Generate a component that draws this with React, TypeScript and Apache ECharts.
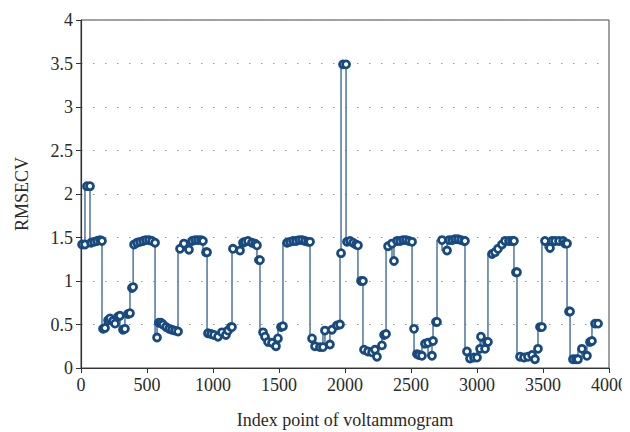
import React, { useEffect, useRef } from "react";
import * as echarts from "echarts";

// Index point of voltammogram (x) and RMSECV (y)
const indexPoints: number[] = [
  8, 30, 45, 68, 76, 98, 121, 144, 159,
  167, 182, 205, 220, 242, 258, 280, 295, 318, 333, 356, 371, 386, 395,
  402, 424, 447, 470, 492, 515, 538, 561,
  576, 590, 606, 621, 644, 667, 689, 712, 735,
  750, 780, 818, 841, 864, 886, 909, 924, 947, 955,
  962, 985, 1008, 1038, 1068, 1098, 1114, 1136, 1144,
  1151, 1205, 1227, 1242, 1265, 1295, 1318, 1333, 1348, 1356,
  1379, 1394, 1417, 1447, 1477, 1492, 1515, 1530,
  1561, 1583, 1606, 1629, 1652, 1674, 1697, 1720, 1735,
  1750, 1773, 1810, 1833, 1848, 1886, 1901, 1939, 1962,
  1970, 1985, 2008, 2015,
  2038, 2061, 2083, 2098,
  2121, 2136,
  2144, 2174, 2205, 2227, 2242, 2280, 2296, 2311,
  2326, 2356, 2371, 2394, 2417, 2440, 2462, 2485, 2508,
  2523, 2545, 2560, 2583, 2606, 2629, 2659, 2667, 2689, 2697,
  2735, 2773, 2788, 2811, 2833, 2856, 2879, 2902, 2909,
  2924, 2947, 2977, 3000, 3023, 3030, 3061, 3076, 3083,
  3114, 3136, 3159, 3189, 3212, 3242, 3265, 3280, 3295, 3303,
  3326, 3356, 3386, 3417, 3439, 3462, 3477, 3492,
  3515, 3553, 3568, 3591, 3621, 3652, 3667, 3682,
  3697, 3705,
  3727, 3750, 3765, 3795, 3833, 3856, 3871, 3894, 3917,
];

const rmsecv: number[] = [
  1.42, 1.42, 2.09, 2.09, 1.44, 1.45, 1.46, 1.47, 1.46,
  0.45, 0.46, 0.55, 0.57, 0.54, 0.51, 0.59, 0.6, 0.44, 0.45, 0.62, 0.63, 0.92, 0.93,
  1.42, 1.44, 1.45, 1.46, 1.47, 1.47, 1.46, 1.44,
  0.35, 0.52, 0.52, 0.5, 0.47, 0.45, 0.44, 0.43, 0.42,
  1.37, 1.43, 1.36, 1.46, 1.47, 1.47, 1.47, 1.46, 1.33, 1.33,
  0.4, 0.39, 0.38, 0.36, 0.41, 0.38, 0.43, 0.47, 0.47,
  1.37, 1.35, 1.44, 1.45, 1.46, 1.44, 1.43, 1.41, 1.24, 1.24,
  0.41, 0.36, 0.3, 0.29, 0.25, 0.34, 0.47, 0.48,
  1.44, 1.45, 1.46, 1.46, 1.47, 1.47, 1.46, 1.45, 1.45,
  0.34, 0.25, 0.24, 0.24, 0.43, 0.27, 0.44, 0.49, 0.5,
  1.32, 3.49, 3.49, 1.45,
  1.46, 1.44, 1.42, 1.41,
  1.0, 1.0,
  0.21, 0.19, 0.18, 0.21, 0.13, 0.26, 0.38, 0.39,
  1.4, 1.43, 1.23, 1.46, 1.46, 1.47, 1.47, 1.46, 1.45,
  0.45, 0.16, 0.15, 0.14, 0.28, 0.29, 0.14, 0.31, 0.53, 0.53,
  1.47, 1.35, 1.47, 1.47, 1.48, 1.48, 1.47, 1.46, 1.46,
  0.19, 0.11, 0.12, 0.12, 0.22, 0.36, 0.22, 0.3, 0.3,
  1.31, 1.33, 1.37, 1.42, 1.46, 1.46, 1.46, 1.46, 1.1, 1.1,
  0.13, 0.12, 0.13, 0.15, 0.1, 0.22, 0.47, 0.47,
  1.46, 1.38, 1.46, 1.46, 1.46, 1.46, 1.43, 1.43,
  0.65, 0.65,
  0.1, 0.1, 0.1, 0.22, 0.14, 0.3, 0.31, 0.51, 0.51,
];

const xTitle = "Index point of voltammogram";
const yTitle = "RMSECV";

export default function App() {
  const ref = useRef<HTMLDivElement>(null);
  useEffect(() => {
    if (!ref.current) return;
    const chart = echarts.init(ref.current, null, { renderer: "svg" });
    const data = indexPoints.map((x, i) => [x, rmsecv[i]]);
    const font = "Liberation Serif";
    chart.setOption({
      animation: false,
      backgroundColor: "#ffffff",
      textStyle: { fontFamily: font },
      grid: {
        left: 73,
        right: 21,
        top: 12,
        bottom: 64,
        containLabel: false,
        outerBoundsMode: "none",
        show: true,
        borderColor: "#444",
        borderWidth: 1,
        backgroundColor: "transparent",
      },
      xAxis: {
        type: "value",
        min: 0,
        max: 4000,
        interval: 500,
        name: xTitle,
        nameLocation: "middle",
        nameGap: 43,
        nameTextStyle: { fontFamily: font, fontSize: 18, color: "#2a2a2a" },
        axisLine: { show: true, onZero: false, lineStyle: { color: "#333", width: 1.2 } },
        axisTick: { show: true, length: 5, inside: false, lineStyle: { color: "#333" } },
        axisLabel: {
          fontFamily: font,
          fontSize: 18,
          color: "#2a2a2a",
          margin: 8,
          formatter: (v: number) => String(v),
        },
        splitLine: { show: false },
      },
      yAxis: {
        type: "value",
        min: 0,
        max: 4,
        interval: 0.5,
        name: yTitle,
        nameLocation: "middle",
        nameGap: 50,
        nameRotate: 90,
        nameTextStyle: { fontFamily: font, fontSize: 18, color: "#2a2a2a" },
        axisLine: { show: true, lineStyle: { color: "#333", width: 1.2 } },
        axisTick: { show: true, length: 5, inside: false, lineStyle: { color: "#333" } },
        axisLabel: {
          fontFamily: font,
          fontSize: 18,
          color: "#2a2a2a",
          margin: 8,
          formatter: (v: number) => String(v),
        },
        splitLine: {
          show: true,
          lineStyle: { color: "#999", type: [1.5, 10.5], width: 1 },
        },
      },
      series: [
        {
          type: "line",
          data,
          step: "start",
          symbol: "circle",
          symbolSize: 7,
          showAllSymbol: true,
          lineStyle: { color: "#4d74a0", width: 1.5 },
          itemStyle: { color: "#ffffff", borderColor: "#174a80", borderWidth: 2.8 },
          z: 3,
        },
      ],
    });
    return () => chart.dispose();
  }, []);
  return <div ref={ref} style={{ width: 622, height: 424 }} />;
}
